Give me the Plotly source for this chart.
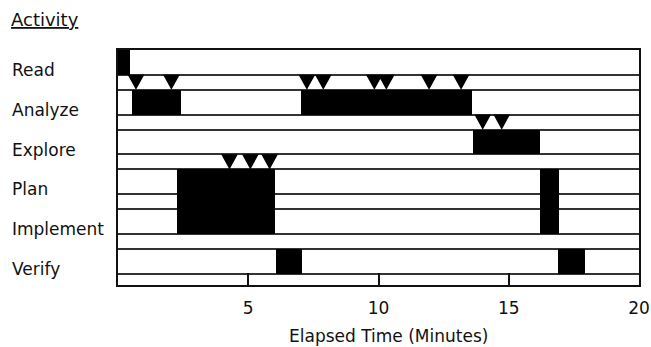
import plotly.graph_objects as go

# ---- data ----
activities = ["Read", "Analyze", "Explore", "Plan", "Implement", "Verify"]

# episodes: top activity row, bottom activity row, start and end (minutes)
episode_top = ["Read", "Analyze", "Analyze", "Explore", "Plan", "Plan", "Verify", "Verify"]
episode_bottom = ["Read", "Analyze", "Analyze", "Explore", "Implement", "Implement", "Verify", "Verify"]
episode_start = [0.0, 0.52, 7.02, 13.62, 2.28, 16.21, 6.07, 16.88]
episode_end = [0.47, 2.40, 13.57, 16.21, 6.04, 16.91, 7.06, 17.93]

# event markers (triangles) shown in the strip above an activity row
marker_activity = ["Analyze"] * 8 + ["Explore"] * 2 + ["Plan"] * 3
marker_time = [0.69, 2.05, 7.25, 7.88, 9.84, 10.30, 11.94, 13.17,
               14.00, 14.73,
               4.28, 5.08, 5.82]

x_tick_vals = [5, 10, 15, 20]
x_tick_text = ["5", "10", "15", "20"]

# ---- layout constants ----
BAND = 0.62          # height of an activity band (row units)
Y_MAX = 5.9
TRI_HALF = 0.32      # half width of triangle in minutes
FONT = "DejaVu Sans"
INK = "#111111"

row_index = {a: i for i, a in enumerate(activities)}

fig = go.Figure()

# bars
bar_y, bar_w = [], []
for t, b in zip(episode_top, episode_bottom):
    top = row_index[t]
    bottom = row_index[b] + BAND
    bar_y.append((top + bottom) / 2)
    bar_w.append(bottom - top)

fig.add_trace(go.Bar(
    orientation="h",
    base=episode_start,
    x=[e - s for s, e in zip(episode_start, episode_end)],
    y=bar_y,
    width=bar_w,
    marker=dict(color="black", line=dict(width=0)),
    hoverinfo="skip",
    showlegend=False,
))

# triangles
tx, ty = [], []
for a, t in zip(marker_activity, marker_time):
    r = row_index[a]
    top = r - (1 - BAND)
    tx += [t - TRI_HALF, t + TRI_HALF, t, t - TRI_HALF, None]
    ty += [top, top, r, top, None]
fig.add_trace(go.Scatter(
    x=tx, y=ty, mode="lines", fill="toself", fillcolor="black",
    line=dict(width=0, color="black"), hoverinfo="skip", showlegend=False,
))

# grid lines at band boundaries
grid_vals = []
for i in range(len(activities)):
    if i > 0:
        grid_vals.append(i)
    grid_vals.append(i + BAND)

# activity labels
annotations = []
for i, a in enumerate(activities):
    annotations.append(dict(
        text=a, xref="paper", yref="y", x=-0.2075, y=i + 0.5,
        xanchor="left", yanchor="middle", showarrow=False,
        font=dict(family=FONT, size=17, color=INK),
    ))
annotations.append(dict(
    text="<u>Activity</u>", xref="paper", yref="paper", x=-0.209, y=1.13,
    xanchor="left", yanchor="middle", showarrow=False,
    font=dict(family=FONT, size=18, color=INK),
))
annotations.append(dict(
    text="Elapsed Time (Minutes)", xref="paper", yref="paper", x=0.52, y=-0.215,
    xanchor="center", yanchor="middle", showarrow=False,
    font=dict(family=FONT, size=17, color=INK),
))

fig.update_layout(
    template="none",
    width=651, height=347,
    margin=dict(l=118, r=12, t=50, b=62, autoexpand=False),
    paper_bgcolor="white", plot_bgcolor="white",
    bargap=0,
    annotations=annotations,
    xaxis=dict(
        range=[0, 20], tickvals=x_tick_vals, ticktext=x_tick_text,
        ticks="inside", ticklen=12, tickwidth=2, tickcolor=INK,
        showgrid=False, zeroline=False, automargin=False,
        showline=True, linecolor=INK, linewidth=2, mirror=True,
        tickfont=dict(family=FONT, size=17, color=INK),
        ticklabelstandoff=7,
        fixedrange=True,
    ),
    yaxis=dict(
        range=[Y_MAX, 0], tickvals=grid_vals, showticklabels=False,
        ticks="", showgrid=True, gridcolor="#333333", gridwidth=2,
        zeroline=False, automargin=False,
        showline=True, linecolor=INK, linewidth=2, mirror=True,
        fixedrange=True,
    ),
)

# remove the default page margin so the figure fills the window exactly
fig.write_html("out.html", config={"displayModeBar": False},
               post_script="document.body.style.margin='0px';")
